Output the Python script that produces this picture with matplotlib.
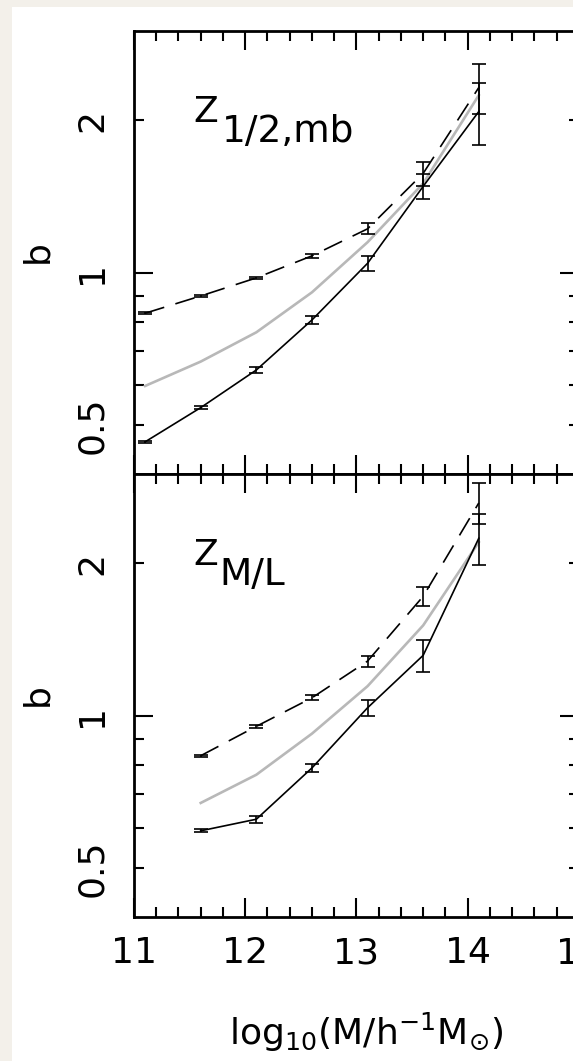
import matplotlib
matplotlib.use("Agg")
import matplotlib.pyplot as plt
from matplotlib.ticker import FixedLocator, FuncFormatter, MultipleLocator
from matplotlib.patches import Rectangle

plt.rcParams["font.family"] = ["DejaVu Sans"]
plt.rcParams["mathtext.fontset"] = "dejavusans"

# ---- data -------------------------------------------------------------
log_mass_mb = [11.1, 11.6, 12.1, 12.6, 13.1, 13.6, 14.1]
mb_solid = [0.463, 0.541, 0.642, 0.806, 1.043, 1.48, 2.08]
mb_solid_err = [0.002, 0.004, 0.008, 0.015, 0.035, 0.085, 0.29]
mb_dashed = [0.831, 0.899, 0.976, 1.079, 1.22, 1.57, 2.32]
mb_dashed_err = [0.003, 0.003, 0.004, 0.01, 0.03, 0.087, 0.26]
mb_grey = [0.597, 0.667, 0.762, 0.914, 1.148, 1.50, 2.24]

log_mass_ml = [11.6, 12.1, 12.6, 13.1, 13.6, 14.1]
ml_solid = [0.592, 0.624, 0.788, 1.036, 1.315, 2.24]
ml_solid_err = [0.004, 0.01, 0.015, 0.036, 0.095, 0.26]
ml_dashed = [0.833, 0.952, 1.084, 1.281, 1.72, 2.63]
ml_dashed_err = [0.004, 0.006, 0.012, 0.032, 0.076, 0.245]
ml_grey = [0.672, 0.764, 0.921, 1.143, 1.507, 2.20]

x_limits = (11, 15)
y_limits = (0.4, 3.0)
y_major = [1]
y_minor = [0.5, 0.6, 0.7, 0.8, 0.9, 2]
y_minor_labels = {0.5: "0.5", 2.0: "2"}

# ---- figure -----------------------------------------------------------
W, H = 573, 1061
fig = plt.figure(figsize=(W / 100, H / 100), dpi=100)
fig.patch.set_facecolor("#f3f0ea")
fig.add_artist(Rectangle((12 / W, 0), 1, 1 - 7 / H, transform=fig.transFigure,
                         facecolor="white", edgecolor="none", zorder=-10))

left = 134 / W
width = (578.9 - 134) / W
height = (474 - 31) / H
ax_top = fig.add_axes([left, 1 - 474 / H, width, height])
ax_bot = fig.add_axes([left, 1 - 917 / H, width, height])

TICK_FS = 26


def style_axes(ax, show_xlabels):
    ax.set_xlim(*x_limits)
    ax.set_yscale("log")
    ax.set_ylim(*y_limits)
    ax.xaxis.set_major_locator(MultipleLocator(1))
    ax.xaxis.set_minor_locator(MultipleLocator(0.2))
    ax.yaxis.set_major_locator(FixedLocator(y_major))
    ax.yaxis.set_minor_locator(FixedLocator(y_minor))
    ax.yaxis.set_major_formatter(FuncFormatter(lambda v, p: "%g" % v))
    ax.yaxis.set_minor_formatter(
        FuncFormatter(lambda v, p: y_minor_labels.get(round(v, 2), "")))
    ax.tick_params(which="both", direction="in", top=True, right=True,
                   width=1.5, colors="black")
    ax.tick_params(which="major", length=13.5)
    ax.tick_params(which="minor", length=7)
    ax.tick_params(axis="y", which="both", labelrotation=90,
                   labelsize=TICK_FS, pad=18)
    ax.tick_params(axis="x", which="both", labelsize=TICK_FS, pad=14,
                   labelbottom=show_xlabels)
    for lab in ax.get_yticklabels(which="both"):
        lab.set_va("center")
    for s in ax.spines.values():
        s.set_linewidth(2.0)
    ax.set_facecolor("white")


def draw_panel(ax, x, solid, solid_err, dashed, dashed_err, grey):
    ax.plot(x, grey, color="#b8b8b8", lw=1.9, zorder=2)
    ax.plot(x, solid, color="black", lw=1.2, zorder=3)
    ax.errorbar(x, solid, yerr=solid_err, fmt="none", ecolor="black",
                elinewidth=1.2, capsize=4.7, capthick=1.2, zorder=3)
    ax.plot(x, dashed, color="black", lw=1.2, dashes=(12, 7), zorder=3)
    ax.errorbar(x, dashed, yerr=dashed_err, fmt="none", ecolor="black",
                elinewidth=1.2, capsize=4.7, capthick=1.2, zorder=3)


draw_panel(ax_top, log_mass_mb, mb_solid, mb_solid_err,
           mb_dashed, mb_dashed_err, mb_grey)
draw_panel(ax_bot, log_mass_ml, ml_solid, ml_solid_err,
           ml_dashed, ml_dashed_err, ml_grey)
style_axes(ax_top, False)
style_axes(ax_bot, True)

# panel labels
for ax, sub, sub_x in ((ax_top, "1/2,mb", 0.198), (ax_bot, "M/L", 0.193)):
    ax.text(0.1326, 0.7946, "Z", transform=ax.transAxes, fontsize=26,
            ha="left", va="baseline")
    ax.text(sub_x, 0.749, sub, transform=ax.transAxes, fontsize=27,
            ha="left", va="baseline")

# axis labels
for yc in (252, 695):
    fig.text(37 / W, 1 - yc / H, "b", rotation=90, ha="center", va="center",
             fontsize=TICK_FS)
fig.text(366 / W, 1 - 1045 / H, r"$\mathregular{log_{10}(M/h^{-1}M_{\odot})}$",
         ha="center", va="baseline", fontsize=TICK_FS)

fig.savefig("out.png", dpi=100, facecolor=fig.get_facecolor())
